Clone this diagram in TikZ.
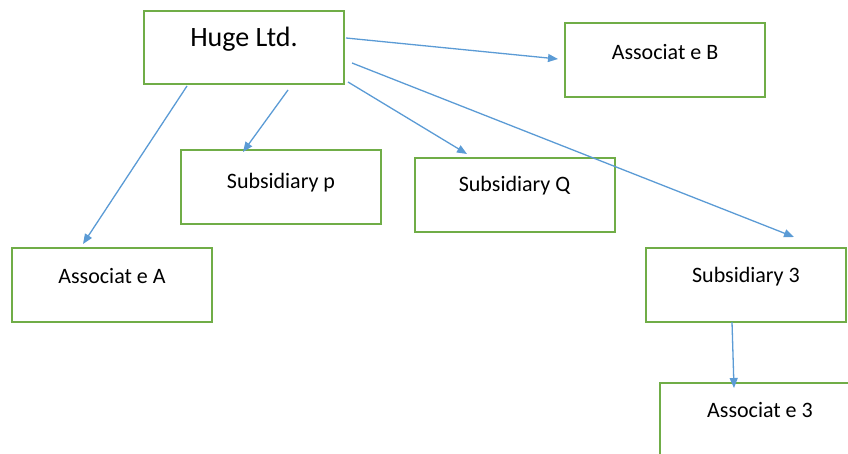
\documentclass[tikz,border=0pt]{standalone}
\usepackage{fontspec}
\setmainfont{Carlito}
\usetikzlibrary{arrows.meta,calc}
\definecolor{boxgreen}{HTML}{70AD47}
\definecolor{arrowblue}{HTML}{5B9BD5}
\tikzset{
  orgbox/.style={draw=boxgreen, line width=2pt, fill=white, minimum width=200pt, minimum height=74pt, inner sep=0pt},
  lbl/.style={anchor=center, font=\fontsize{22}{26}\selectfont, inner sep=0pt},
  biglbl/.style={anchor=center, font=\fontsize{28}{32}\selectfont, inner sep=0pt},
  conn/.style={draw=arrowblue, line width=1.3pt, -{Triangle[length=10pt,width=8pt]}}
}
\begin{document}
\begin{tikzpicture}[x=1pt,y=-1pt]
\useasboundingbox (0,0) rectangle (848,454);
\node[orgbox, minimum height=73pt] (huge) at (244,47.5) {};
\node[biglbl] (hugetxt) at ($(huge.north)+(0,29)$) {Huge Ltd.};
\node[orgbox] (assocB) at (665,60) {};
\node[lbl] (assocBtxt) at ($(assocB.north)+(0,30)$) {Associat e B};
\node[orgbox] (subP) at (281,187) {};
\node[lbl] (subPtxt) at ($(subP.north)+(0,34)$) {Subsidiary p};
\node[orgbox] (subQ) at (514.5,195) {};
\node[lbl] (subQtxt) at ($(subQ.north)+(0,29)$) {Subsidiary Q};
\node[orgbox] (assocA) at (112,285) {};
\node[lbl] (assocAtxt) at ($(assocA.north)+(0,29)$) {Associat e A};
\node[orgbox] (sub3) at (746,285) {};
\node[lbl] (sub3txt) at ($(sub3.north)+(0,30)$) {Subsidiary 3};
\node[orgbox] (assoc3) at (760,420) {};
\node[lbl] (assoc3txt) at ($(assoc3.north)+(0,28)$) {Associat e 3};
% connector ends
\coordinate (s1) at (346,38);
\coordinate (e1) at (558,59);
\coordinate (s2) at (352,63);
\coordinate (e2) at (794,237);
\coordinate (s3) at (348,82);
\coordinate (e3) at (467,154);
\coordinate (s4) at (288,90);
\coordinate (e4) at (243,152);
\coordinate (s5) at (187,86);
\coordinate (e5) at (83,244);
\coordinate (s6) at (732,322);
\coordinate (e6) at (734,388);
\draw[conn] (s1) -- (e1);
\draw[conn] (s2) -- (e2);
\draw[conn] (s3) -- (e3);
\draw[conn] (s4) -- (e4);
\draw[conn] (s5) -- (e5);
\draw[conn] (s6) -- (e6);
\end{tikzpicture}
\end{document}
